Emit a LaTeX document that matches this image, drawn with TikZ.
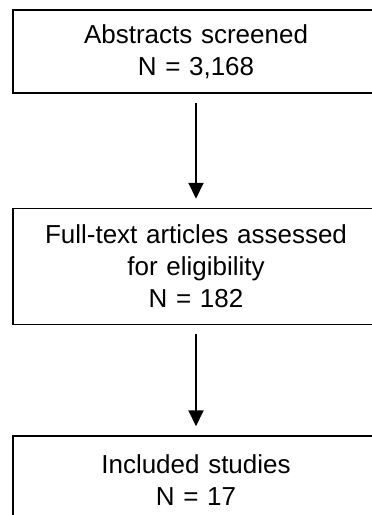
\documentclass[tikz,border=0pt]{standalone}
\usepackage{fontspec}
\setmainfont{Liberation Sans}
\usetikzlibrary{arrows.meta,positioning}

\begin{document}
\begin{tikzpicture}[x=1pt,y=1pt,>={Triangle[width=15pt,length=16pt]},
  stagebox/.style={draw,line width=1.5pt,align=center,inner sep=0pt,
    minimum width=366pt,text width=340pt,
    font=\fontsize{26}{32}\selectfont},
  flow/.style={->,line width=2pt,shorten <=9pt,shorten >=9pt}]
\useasboundingbox (0,0) rectangle (372,-515);
\clip (0,0) rectangle (372,-515);
\node[stagebox,minimum height=83pt] (screen) at (196,-51.5) {Abstracts screened\\N = 3,168};
\node[stagebox,minimum height=116pt,below=114pt of screen] (fulltext) {Full-text articles assessed\\for eligibility\\N = 182};
\node[stagebox,minimum height=89pt,below=110pt of fulltext] (included) {Included studies\\N = 17};
\draw[flow] (screen) -- (fulltext);
\draw[flow] (fulltext) -- (included);
\end{tikzpicture}
\end{document}
